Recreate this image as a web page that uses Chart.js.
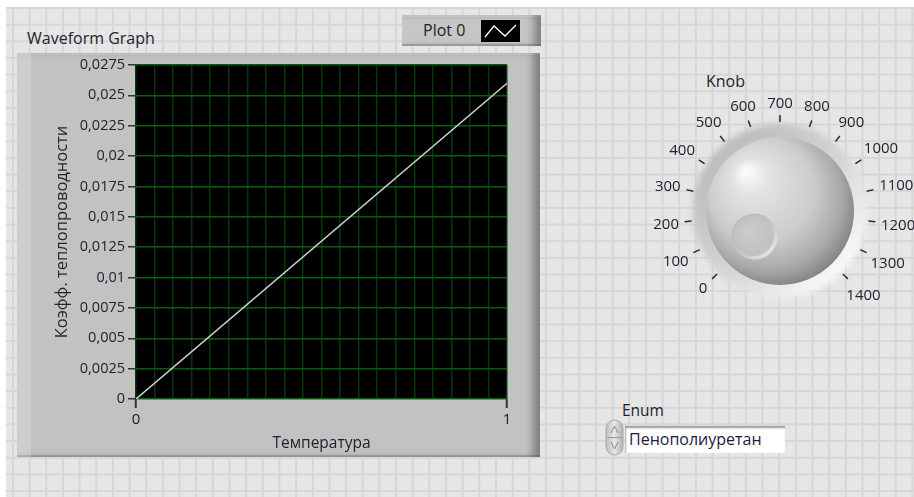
<!DOCTYPE html>
<html>
<head>
<meta charset="utf-8">
<script src="https://cdn.jsdelivr.net/npm/chart.js@4.4.1/dist/chart.umd.min.js"></script>
<style>
  body { margin: 0; width: 914px; height: 497px; overflow: hidden; background: #fff; font-family: "Open Sans", sans-serif; color: #22222f; }
  #panel { position: absolute; left: 6px; top: 7px; right: 0; bottom: 0; background-color: #e6e6e6;
    background-image: linear-gradient(to right, #d6d6d6 2px, transparent 2px), linear-gradient(to bottom, #d6d6d6 2px, transparent 2px);
    background-size: 16.67px 16.67px; background-position: 6px 0px; }
  .lbl { position: absolute; white-space: nowrap; line-height: 1; }
  #frame { position: absolute; left: 17px; top: 53px; width: 523px; height: 404px; background: #c2c2c2;
    box-shadow: inset 14px 0 0 0 rgba(255,255,255,0.2), inset -9px 0 8px -2px rgba(0,0,0,0.35), inset 0 -2px 0 #a6a6a6, inset 0 2px 0 #d0d0d0; }
  #graph { position: absolute; left: 17px; top: 53px; }
  #legend { position: absolute; left: 402px; top: 15px; width: 139px; height: 31px; background: #c6c6c6;
    box-shadow: inset -9px 0 8px -2px rgba(0,0,0,0.35), inset 0 -2px 0 #a8a8a8, inset 0 2px 0 #d4d4d4; }
  #legend span { position: absolute; left: 21px; top: 7px; font-size: 16px; line-height: 1; }
  #legend svg { position: absolute; left: 79px; top: 5px; }
  #knob { position: absolute; left: 620px; top: 60px; }
  #enumbox { position: absolute; left: 625px; top: 426px; width: 160px; height: 27px; background: #fff;
    box-shadow: inset 0 3px 2px -1px #9a9a9a, inset 2px 0 2px -1px #b0b0b0; }
  #enumbox span { position: absolute; left: 4px; top: 5px; font-size: 16px; line-height: 1; color: #221a40; }
  #spin { position: absolute; left: 605px; top: 419px; }
</style>
</head>
<body>
<div id="panel"></div>
<div class="lbl" style="left:27px;top:30px;font-size:16px;">Waveform Graph</div>
<div id="frame"></div>
<canvas id="graph" width="523" height="404"></canvas>
<div id="legend"><span id="legendText"></span>
  <svg width="39" height="22"><rect width="39" height="22" fill="#000"/><polyline points="4,17 13,6 24,16 35,5" fill="none" stroke="#fff" stroke-width="1.3"/></svg>
</div>
<div class="lbl" style="left:706px;top:73px;font-size:16px;">Knob</div>
<canvas id="knob" width="294" height="270"></canvas>
<div class="lbl" style="left:622px;top:403px;font-size:15.5px;">Enum</div>
<svg id="spin" width="19" height="37">
  <defs><linearGradient id="sg" x1="0" x2="1"><stop offset="0" stop-color="#bdbdbd"/><stop offset="0.5" stop-color="#e6e6e6"/><stop offset="1" stop-color="#b0b0b0"/></linearGradient></defs>
  <rect x="1" y="1" width="17" height="35" rx="8.5" fill="url(#sg)" stroke="#a8a8a8"/>
  <line x1="2" y1="18.5" x2="17" y2="18.5" stroke="#9c9c9c"/>
  <polyline points="6,14 9.5,7 13,14" fill="none" stroke="#8a8a8a" stroke-width="1"/>
  <polyline points="6,23 9.5,30 13,23" fill="none" stroke="#8a8a8a" stroke-width="1"/>
</svg>
<div id="enumbox"><span id="enumText"></span></div>

<script>
// graph data
const seriesNames = ['Plot 0'];
const xValues = [0, 1];
const yValues = [0, 0.026];
const yTickValues = [0, 0.0025, 0.005, 0.0075, 0.01, 0.0125, 0.015, 0.0175, 0.02, 0.0225, 0.025, 0.0275];
const yTickLabels = ['0', '0,0025', '0,005', '0,0075', '0,01', '0,0125', '0,015', '0,0175', '0,02', '0,0225', '0,025', '0,0275'];
const xTickValues = [0, 1];
const xTickLabels = ['0', '1'];
const xTitle = 'Температура';
const yTitle = 'Коэфф. теплопроводности';

// knob + enum
const knobTicks = [0, 100, 200, 300, 400, 500, 600, 700, 800, 900, 1000, 1100, 1200, 1300, 1400];
const knobValue = 0;
const enumValue = 'Пенополиуретан';

const txt = '#22222f';
const isLabelled = v => xTickValues.some(t => Math.abs(t - v) < 1e-9);

const plotBg = {
  id: 'plotBg',
  beforeDraw(chart) {
    const { ctx, chartArea: a } = chart;
    ctx.save();
    ctx.fillStyle = '#000';
    ctx.fillRect(a.left, a.top, a.right - a.left, a.bottom - a.top);
    ctx.restore();
  }
};

new Chart(document.getElementById('graph'), {
  type: 'line',
  data: {
    datasets: [{
      label: seriesNames[0],
      data: xValues.map((x, i) => ({ x, y: yValues[i] })),
      borderColor: '#cfcfcf',
      borderWidth: 1.5,
      pointRadius: 0,
      tension: 0
    }]
  },
  options: {
    responsive: false,
    animation: false,
    layout: { padding: { top: 12, right: 33, left: 0, bottom: 0 } },
    plugins: { legend: { display: false }, tooltip: { enabled: false } },
    scales: {
      x: {
        type: 'linear', min: 0, max: 1,
        afterFit: s => { s.height = 58; },
        ticks: {
          stepSize: 0.05, autoSkip: false, maxRotation: 0, padding: 3,
          color: txt, font: { family: 'Open Sans', size: 15 },
          callback: v => { const i = xTickValues.findIndex(t => Math.abs(t - v) < 1e-9); return i >= 0 ? xTickLabels[i] : ''; }
        },
        grid: {
          color: '#083608', lineWidth: 1.5, tickLength: 9,
          tickColor: c => (c.tick && isLabelled(c.tick.value)) ? '#333' : 'rgba(0,0,0,0)',
          tickWidth: 2
        },
        border: { display: false },
        title: { display: true, text: xTitle, color: txt, font: { family: 'Open Sans', size: 15.5 }, padding: { top: 0, bottom: 4 } }
      },
      y: {
        min: 0, max: 0.0275,
        afterFit: s => { s.width = 119; },
        afterBuildTicks: s => { s.ticks = yTickValues.map(v => ({ value: v })); },
        ticks: {
          padding: 3, color: txt, font: { family: 'Open Sans', size: 14.5 },
          callback: (v, i) => yTickLabels[i]
        },
        grid: { color: '#0a5e0a', lineWidth: 1.5, tickLength: 8, tickColor: '#333', tickWidth: 1.5 },
        border: { display: false },
        title: { display: true, text: yTitle, color: '#2a2226', font: { family: 'Open Sans', size: 16.5 }, padding: { top: 35, bottom: 0 } }
      }
    }
  },
  plugins: [plotBg]
});

document.getElementById('legendText').textContent = seriesNames[0];
document.getElementById('enumText').textContent = enumValue;

// knob
(function () {
  const c = document.getElementById('knob');
  const ctx = c.getContext('2d');
  const cx = 160, cy = 151, R = 74;
  const ang = v => (225 - v / 1400 * 270) * Math.PI / 180;

  // halo
  ctx.save();
  ctx.filter = 'blur(3px)';
  const hg = ctx.createLinearGradient(cx - 70, cy - 70, cx + 70, cy + 70);
  hg.addColorStop(0, '#b8b8b8');
  hg.addColorStop(0.55, '#d6d6d6');
  hg.addColorStop(1, '#ffffff');
  ctx.fillStyle = hg;
  ctx.beginPath(); ctx.arc(cx, cy, 87, 0, Math.PI * 2); ctx.fill();
  ctx.restore();

  // sphere
  const sg = ctx.createRadialGradient(cx - 34, cy - 40, 2, cx - 8, cy - 10, 86);
  sg.addColorStop(0, '#fbfbfb');
  sg.addColorStop(0.2, '#e2e2e2');
  sg.addColorStop(0.6, '#cccccc');
  sg.addColorStop(0.85, '#a9a9a9');
  sg.addColorStop(1, '#858585');
  ctx.fillStyle = sg;
  ctx.beginPath(); ctx.arc(cx, cy, R, 0, Math.PI * 2); ctx.fill();

  // dimple at knob value
  const a = ang(knobValue);
  const dx = cx + 36 * Math.cos(a), dy = cy - 36 * Math.sin(a);
  const dg = ctx.createLinearGradient(dx - 20, dy - 20, dx + 20, dy + 20);
  dg.addColorStop(0, '#b2b2b2');
  dg.addColorStop(0.6, '#c9c9c9');
  dg.addColorStop(1, '#ececec');
  ctx.fillStyle = dg;
  ctx.beginPath(); ctx.arc(dx, dy, 23, 0, Math.PI * 2); ctx.fill();
  const dg2 = ctx.createRadialGradient(dx - 6, dy - 6, 2, dx, dy, 22);
  dg2.addColorStop(0, '#cbcbcb');
  dg2.addColorStop(1, '#c0c0c0');
  ctx.fillStyle = dg2;
  ctx.beginPath(); ctx.arc(dx - 1, dy - 1, 20.5, 0, Math.PI * 2); ctx.fill();

  // ticks + labels
  ctx.strokeStyle = '#2a2a2a';
  ctx.lineWidth = 1.5;
  ctx.fillStyle = txt;
  ctx.font = '15px "Open Sans"';
  ctx.textAlign = 'center';
  ctx.textBaseline = 'middle';
  knobTicks.forEach(v => {
    const t = ang(v), co = Math.cos(t), si = Math.sin(t);
    ctx.beginPath();
    ctx.moveTo(cx + 89 * co, cy - 89 * si);
    ctx.lineTo(cx + 96 * co, cy - 96 * si);
    ctx.stroke();
    const s = String(v), w = ctx.measureText(s).width;
    const r = 101 + (w / 2) * Math.abs(co) + 7 * Math.abs(si);
    ctx.fillText(s, cx + r * co, cy - r * si + 1);
  });
})();
</script>
</body>
</html>
